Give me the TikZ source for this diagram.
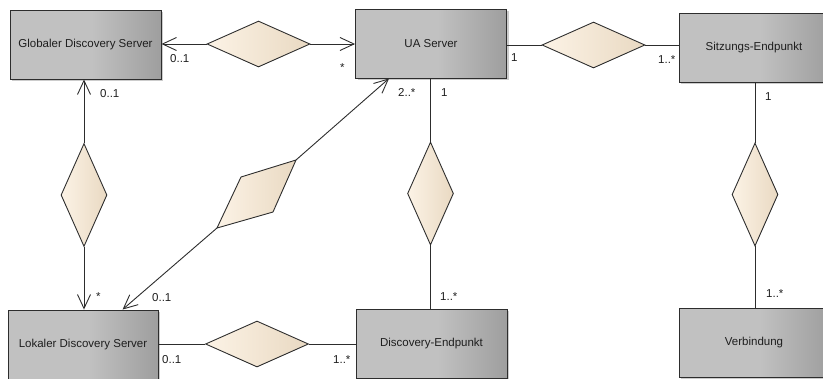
\documentclass[tikz,border=0pt]{standalone}
\usepackage{fontspec}
\setmainfont{Liberation Sans}
\usetikzlibrary{arrows.meta,shapes.geometric,shadows,calc}
\definecolor{boxL}{RGB}{193,193,193}
\definecolor{boxR}{RGB}{158,158,158}
\definecolor{dmL}{RGB}{252,243,230}
\definecolor{dmR}{RGB}{233,217,194}
\definecolor{edge}{RGB}{45,45,45}
\definecolor{ink}{RGB}{30,30,30}
% class fill: flat on the left half, darkening towards the right edge
\pgfdeclarehorizontalshading{classfill}{100bp}{color(0bp)=(boxL); color(25bp)=(boxL);
  color(52bp)=(boxL); color(75bp)=(boxR); color(100bp)=(boxR)}
\begin{document}
\begin{tikzpicture}[x=1pt,y=-1pt,
  entity/.style={draw=edge, line width=0.9pt, minimum width=151pt, minimum height=69pt,
    inner sep=0pt, shading=classfill, shading angle=0, text=ink,
    font=\fontsize{11.5}{13}\selectfont,
    drop shadow={shadow xshift=2pt, shadow yshift=-2pt, fill=black, opacity=0.2}},
  rel/.style={diamond, draw=edge, line width=0.9pt, inner sep=0pt,
    left color=dmL, right color=dmR},
  hrel/.style={rel, minimum width=103pt, minimum height=46pt},
  vrel/.style={rel, minimum width=46pt, minimum height=103pt},
  link/.style={draw=edge, line width=0.9pt},
  nav/.style={link, -{Straight Barb[length=14pt,width=13pt]}},
  mult/.style={anchor=base west, inner sep=0pt, text=ink,
    font=\fontsize{11.5}{13}\selectfont}]
\useasboundingbox (0,0) rectangle (823,378);
\clip (0,0) rectangle (823,378);

% classes
\node[entity] (gds) at (85.5,44.5) {Globaler Discovery Server};
\node[entity] (ua) at (431,43.5) {UA Server};
\node[entity, minimum width=150pt] (sep) at (754,47.5) {Sitzungs-Endpunkt};
\node[entity, minimum width=150pt] (lds) at (83,344.5) {Lokaler Discovery Server};
\node[entity] (dep) at (431.5,343.5) {Discovery-Endpunkt};
\node[entity, minimum width=150pt] (con) at (754,342.5) {Verbindung};

% association diamonds
\node[hrel] (r1) at (258.5,44) {};
\node[hrel] (r2) at (593.5,45) {};
\node[hrel] (r3) at (257,344) {};
\node[vrel] (r4) at (84,195) {};
\node[vrel] (r5) at (430.5,193.5) {};
\node[vrel] (r6) at (755,194.5) {};

% slanted diamond between UA Server and Lokaler Discovery Server
\coordinate (r7a) at (217,228);
\coordinate (r7b) at (241,177);
\coordinate (r7c) at (296,160);
\coordinate (r7d) at (273,212);
\path[draw=edge, line width=0.9pt, left color=dmL, right color=dmR]
  (r7a) -- (r7b) -- (r7c) -- (r7d) -- cycle;
\coordinate (uafoot) at ($(ua.south west)+(34,0)$);
\coordinate (ldshead) at ($(lds.north west)+(115,0)$);

% association ends
\draw[nav] (r1.west) -- (r1.west -| gds.east);
\draw[nav] (r1.east) -- (r1.east -| ua.west);
\draw[link] (r2.west) -- (r2.west -| ua.east);
\draw[link] (r2.east) -- (r2.east -| sep.west);
\draw[link] (r3.west) -- (r3.west -| lds.east);
\draw[link] (r3.east) -- (r3.east -| dep.west);
\draw[nav] (r4.north) -- (r4.north |- gds.south);
\draw[nav] (r4.south) -- (r4.south |- lds.north);
\draw[link] (r5.north) -- (r5.north |- ua.south);
\draw[link] (r5.south) -- (r5.south |- dep.north);
\draw[link] (r6.north) -- (r6.north |- sep.south);
\draw[link] (r6.south) -- (r6.south |- con.north);
\draw[nav] (r7c) -- (uafoot);
\draw[nav] (r7a) -- (ldshead);

% multiplicities
\node[mult] (m1) at (170,62) {0..1};
\node[mult] (m2) at (340,71) {*};
\node[mult] (m3) at (100,97) {0..1};
\node[mult] (m4) at (398,96) {2..*};
\node[mult] (m5) at (441,96) {1};
\node[mult] (m6) at (511,61) {1};
\node[mult] (m7) at (658,63) {1..*};
\node[mult] (m8) at (765,100) {1};
\node[mult] (m9) at (96,300) {*};
\node[mult] (m10) at (152,301) {0..1};
\node[mult] (m11) at (440,300) {1..*};
\node[mult] (m12) at (162,363) {0..1};
\node[mult] (m13) at (333,363) {1..*};
\node[mult] (m14) at (766,297) {1..*};
\end{tikzpicture}
\end{document}
